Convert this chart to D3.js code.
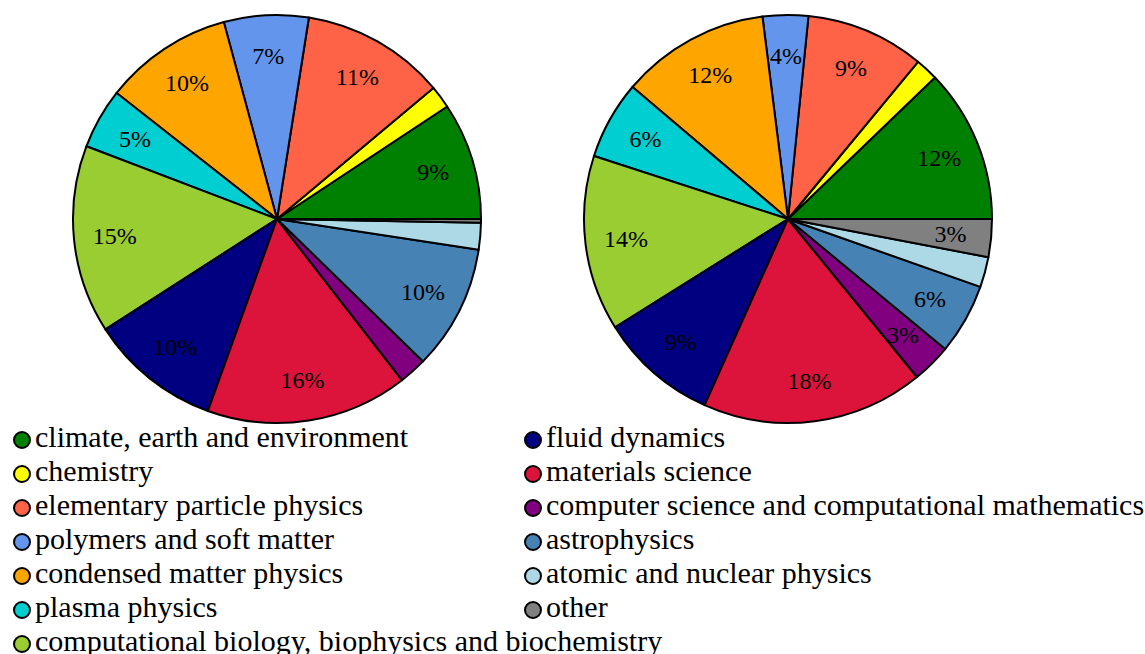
<!DOCTYPE html>
<html>
<head>
<meta charset="utf-8">
<script src="https://cdn.jsdelivr.net/npm/d3@7"></script>
<style>
  body { margin: 0; background: #fff; }
  svg { display: block; font-family: "Liberation Serif", "DejaVu Serif", serif; }
</style>
</head>
<body>
<div id="chart"></div>
<script>
// categories, in drawing order (counter-clockwise from 3 o'clock)
var categories = [
  "climate, earth and environment",
  "chemistry",
  "elementary particle physics",
  "polymers and soft matter",
  "condensed matter physics",
  "plasma physics",
  "computational biology, biophysics and biochemistry",
  "fluid dynamics",
  "materials science",
  "computer science and computational mathematics",
  "astrophysics",
  "atomic and nuclear physics",
  "other"
];
var colors = ["#008000", "#ffff00", "#ff6347", "#6495ed", "#ffa500", "#00ced1",
  "#9acd32", "#000080", "#dc143c", "#800080", "#4682b4", "#add8e6", "#808080"];

// shares in percent
var leftValues  = [9.3, 1.8, 11.4, 6.7, 10.2, 4.8, 14.9, 10.4, 16.0, 2.2, 9.9, 2.1, 0.3];
var rightValues = [12.2, 1.8, 9.4, 3.6, 11.8, 6.2, 13.9, 9.4, 17.6, 3.1, 5.6, 2.4, 3.0];

var width = 1145, height = 654;
var radius = 204;

var svg = d3.select("#chart")
  .append("svg")
  .attr("width", width)
  .attr("height", height);

var color = d3.scaleOrdinal().domain(categories).range(colors);

// counter-clockwise, starting at 3 o'clock
var pie = d3.pie()
  .sort(null)
  .value(function(d) { return d.value; })
  .startAngle(Math.PI / 2)
  .endAngle(Math.PI / 2 - 2 * Math.PI);

var arc = d3.arc().innerRadius(0).outerRadius(radius);
var labelArc = d3.arc().innerRadius(radius * 0.8).outerRadius(radius * 0.8);

function drawPie(values, cx, cy) {
  var data = categories.map(function(c, i) { return { name: c, value: values[i] }; });
  var g = svg.append("g").attr("transform", "translate(" + cx + "," + cy + ")");

  g.selectAll("path")
    .data(pie(data))
    .enter()
    .append("path")
    .attr("d", arc)
    .attr("fill", function(d) { return color(d.data.name); })
    .attr("stroke", "#000")
    .attr("stroke-width", 2)
    .attr("stroke-linejoin", "round");

  g.selectAll("text")
    .data(pie(data).filter(function(d) { return Math.round(d.data.value) >= 3; }))
    .enter()
    .append("text")
    .attr("transform", function(d) { return "translate(" + labelArc.centroid(d) + ")"; })
    .attr("text-anchor", "middle")
    .attr("dy", "0.33em")
    .attr("font-size", 24)
    .attr("fill", "#000")
    .text(function(d) { return Math.round(d.data.value) + "%"; });
}

drawPie(leftValues, 277, 219);
drawPie(rightValues, 788, 219);

// Legend: two columns
var perColumn = 7;
var legend = svg.append("g");
var item = legend.selectAll("g")
  .data(categories)
  .enter()
  .append("g")
  .attr("transform", function(d, i) {
    var col = Math.floor(i / perColumn), row = i % perColumn;
    return "translate(" + (col === 0 ? 22 : 533) + "," + (440 + row * 34) + ")";
  });

item.append("circle")
  .attr("r", 8)
  .attr("fill", function(d) { return color(d); })
  .attr("stroke", "#000")
  .attr("stroke-width", 2);

item.append("text")
  .attr("x", 13)
  .attr("y", 7)
  .attr("font-size", 30)
  .attr("fill", "#000")
  .text(function(d) { return d; });
</script>
</body>
</html>
